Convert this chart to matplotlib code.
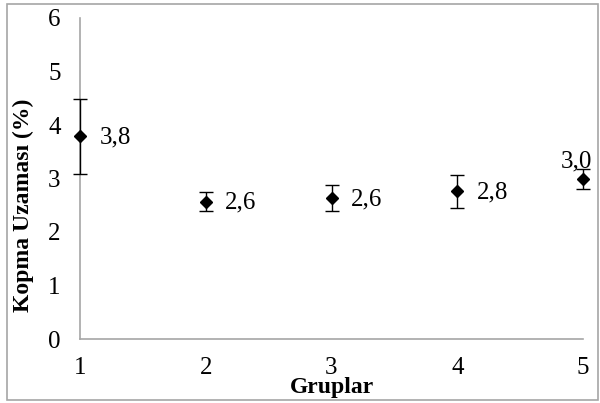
import numpy as np
import matplotlib.pyplot as plt
from matplotlib.patches import Rectangle

plt.rcParams['font.family'] = ['Liberation Serif', 'DejaVu Serif']

gruplar = [1, 2, 3, 4, 5]
uzama = [3.79, 2.57, 2.63, 2.76, 2.99]
hata = [0.70, 0.18, 0.24, 0.31, 0.18]
etiketler = ['3,8', '2,6', '2,6', '2,8', '3,0']

fig = plt.figure(figsize=(6, 4.03), dpi=100)
# dis cerceve
fig.add_artist(Rectangle((7 / 600, 3 / 403), 591 / 600, 396 / 403,
                         transform=fig.transFigure, fill=False,
                         edgecolor='#a6a6a6', linewidth=1.2))

ax = fig.add_axes([80 / 600, 64 / 403, 503 / 600, 321 / 403])
ax.errorbar(gruplar, uzama, yerr=hata, fmt='D', color='black', markersize=6,
            ecolor='black', elinewidth=1, capsize=5, capthick=1, clip_on=False,
            zorder=5)

for i in range(len(gruplar)):
    if i == len(gruplar) - 1:
        ax.annotate(etiketler[i], (gruplar[i], uzama[i]), xytext=(-5, 5),
                    textcoords='offset points', ha='center', va='bottom', fontsize=18)
    else:
        ax.annotate(etiketler[i], (gruplar[i], uzama[i]), xytext=(14, -1),
                    textcoords='offset points', ha='left', va='center', fontsize=18)

ax.set_xlim(1, 5)
ax.set_ylim(0, 6)
ax.set_xticks(gruplar)
ax.set_yticks(range(0, 7))
ax.tick_params(length=0, labelsize=18)
ax.tick_params(axis='x', pad=13)
ax.tick_params(axis='y', pad=14)
for s in ['top', 'right']:
    ax.spines[s].set_visible(False)
for s in ['left', 'bottom']:
    ax.spines[s].set_color('#a6a6a6')
    ax.spines[s].set_linewidth(1.2)

fig.text(332 / 600, 1 - 387 / 403, 'Gruplar', ha='center', va='center',
         fontsize=17, fontweight='bold')
fig.text(23 / 600, 1 - 205 / 403, 'Kopma Uzaması (%)', ha='center', va='center',
         rotation=90, fontsize=17, fontweight='bold')

fig.savefig('out.png', dpi=100)
